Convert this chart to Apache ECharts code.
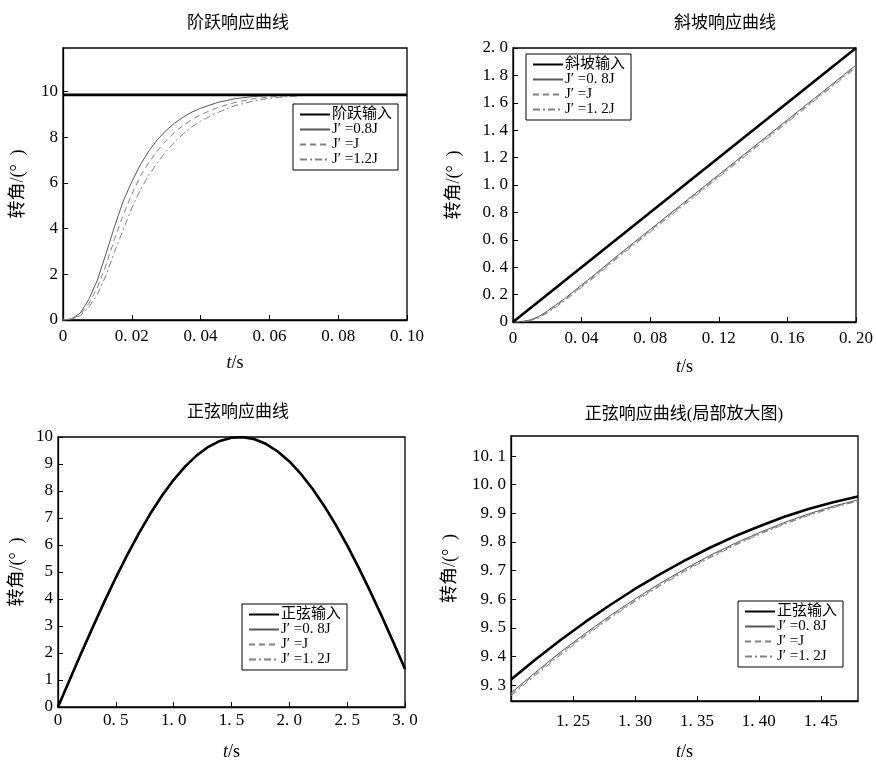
<!DOCTYPE html>
<html>
<head>
<meta charset="utf-8">
<script src="https://cdn.jsdelivr.net/npm/echarts@6/dist/echarts.min.js"></script>
<style>html,body{margin:0;padding:0;background:#fff}#c{width:876px;height:762px}</style>
</head>
<body>
<div id="c"></div>
<script>
// ---- Panel 1: step response ----
const stepT = [0, 0.0025, 0.005, 0.0075, 0.01, 0.0125, 0.015, 0.0175, 0.02, 0.0225, 0.025, 0.0275, 0.03, 0.0325, 0.035, 0.0375, 0.04, 0.045, 0.05, 0.055, 0.06, 0.065, 0.07, 0.08, 0.09, 0.1];
const step08 = [0, 0.05, 0.3, 0.9, 1.75, 2.9, 4.1, 5.2, 6.05, 6.8, 7.4, 7.9, 8.3, 8.62, 8.88, 9.1, 9.26, 9.52, 9.68, 9.77, 9.82, 9.84, 9.85, 9.85, 9.85, 9.85];
const step10 = [0, 0.04, 0.23, 0.72, 1.42, 2.4, 3.55, 4.6, 5.5, 6.3, 6.9, 7.42, 7.85, 8.22, 8.52, 8.77, 8.98, 9.3, 9.52, 9.67, 9.76, 9.81, 9.84, 9.85, 9.85, 9.85];
const step12 = [0, 0.03, 0.18, 0.56, 1.12, 1.95, 3.0, 3.95, 4.9, 5.7, 6.35, 6.9, 7.38, 7.8, 8.15, 8.45, 8.7, 9.08, 9.38, 9.57, 9.7, 9.77, 9.82, 9.85, 9.85, 9.85];
const stepInT = [0, 0.1];
const stepIn = [9.85, 9.85];

// ---- Panel 2: ramp response ----
const rampT = [0, 0.005, 0.01, 0.015, 0.02, 0.025, 0.03, 0.035, 0.04, 0.05, 0.06, 0.07, 0.08, 0.1, 0.12, 0.14, 0.16, 0.18, 0.2];
const ramp08 = [0, 0.003, 0.015, 0.04, 0.08, 0.125, 0.17, 0.22, 0.27, 0.37, 0.475, 0.575, 0.675, 0.875, 1.075, 1.275, 1.475, 1.675, 1.875];
const ramp10 = [0, 0.002, 0.012, 0.034, 0.072, 0.116, 0.162, 0.211, 0.261, 0.361, 0.466, 0.566, 0.666, 0.866, 1.066, 1.266, 1.466, 1.666, 1.866];
const ramp12 = [0, 0.002, 0.01, 0.03, 0.066, 0.108, 0.154, 0.203, 0.253, 0.353, 0.457, 0.557, 0.657, 0.857, 1.057, 1.257, 1.457, 1.657, 1.857];
const rampInT = [0, 0.2];
const rampIn = [0, 2.0];

// ---- Panel 3: sine response ----
const sineT = [0, 0.1, 0.2, 0.3, 0.4, 0.5, 0.6, 0.7, 0.8, 0.9, 1.0, 1.1, 1.2, 1.3, 1.4, 1.5, 1.6, 1.7, 1.8, 1.9, 2.0, 2.1, 2.2, 2.3, 2.4, 2.5, 2.6, 2.7, 2.8, 2.9, 3.0];
const sineIn = [0, 0.998, 1.987, 2.955, 3.894, 4.794, 5.646, 6.442, 7.174, 7.833, 8.415, 8.912, 9.320, 9.636, 9.854, 9.975, 9.996, 9.917, 9.738, 9.463, 9.093, 8.632, 8.085, 7.457, 6.755, 5.985, 5.155, 4.274, 3.350, 2.392, 1.411];
const sine08 = [0, 0.948, 1.938, 2.907, 3.848, 4.750, 5.605, 6.404, 7.139, 7.802, 8.388, 8.889, 9.302, 9.623, 9.845, 9.971, 9.997, 9.923, 9.749, 9.479, 9.114, 8.657, 8.114, 7.490, 6.792, 6.025, 5.198, 4.319, 3.397, 2.441, 1.461];
const sine10 = [0, 0.943, 1.933, 2.902, 3.843, 4.746, 5.601, 6.400, 7.136, 7.799, 8.385, 8.887, 9.300, 9.622, 9.844, 9.971, 9.997, 9.924, 9.750, 9.481, 9.116, 8.660, 8.117, 7.493, 6.796, 6.029, 5.202, 4.324, 3.402, 2.446, 1.466];
const sine12 = [0, 0.938, 1.928, 2.897, 3.838, 4.742, 5.597, 6.396, 7.132, 7.796, 8.382, 8.885, 9.298, 9.621, 9.843, 9.970, 9.997, 9.925, 9.751, 9.483, 9.118, 8.662, 8.120, 7.496, 6.800, 6.033, 5.206, 4.328, 3.407, 2.451, 1.471];

// ---- Panel 4: sine response, zoomed ----
const zoomT = [1.20, 1.22, 1.24, 1.26, 1.28, 1.30, 1.32, 1.34, 1.36, 1.38, 1.40, 1.42, 1.44, 1.46, 1.48];
const zoomIn = [9.320, 9.391, 9.458, 9.521, 9.580, 9.636, 9.687, 9.735, 9.779, 9.819, 9.854, 9.887, 9.915, 9.939, 9.959];
const zoom08 = [9.273, 9.346, 9.416, 9.481, 9.543, 9.601, 9.655, 9.705, 9.752, 9.794, 9.832, 9.867, 9.898, 9.925, 9.947];
const zoom10 = [9.268, 9.341, 9.411, 9.476, 9.538, 9.596, 9.650, 9.701, 9.748, 9.790, 9.829, 9.864, 9.895, 9.922, 9.945];
const zoom12 = [9.263, 9.336, 9.406, 9.472, 9.534, 9.592, 9.646, 9.697, 9.744, 9.787, 9.826, 9.861, 9.892, 9.920, 9.943];

// ---- tick values ----
const p1XTicks = [0, 0.02, 0.04, 0.06, 0.08, 0.1];
const p1YTicks = [0, 2, 4, 6, 8, 10];
const p2XTicks = [0, 0.04, 0.08, 0.12, 0.16, 0.2];
const p2YTicks = [0, 0.2, 0.4, 0.6, 0.8, 1.0, 1.2, 1.4, 1.6, 1.8, 2.0];
const p3XTicks = [0, 0.5, 1.0, 1.5, 2.0, 2.5, 3.0];
const p3YTicks = [0, 1, 2, 3, 4, 5, 6, 7, 8, 9, 10];
const p4XTicks = [1.25, 1.30, 1.35, 1.40, 1.45];
const p4YTicks = [9.3, 9.4, 9.5, 9.6, 9.7, 9.8, 9.9, 10.0, 10.1];

const titles = ['阶跃响应曲线', '斜坡响应曲线', '正弦响应曲线', '正弦响应曲线(局部放大图)'];
const N1 = ['阶跃输入', 'J′ =0.8J', 'J′ =J', 'J′ =1.2J'];
const N2 = ['斜坡输入', 'J′ =0. 8J', 'J′ =J ', 'J′ =1. 2J'];
const N3 = ['正弦输入', 'J′ =0. 8J', 'J′ =J ', 'J′ =1. 2J'];

const FONT = '"Liberation Serif", "DejaVu Serif", "Noto Sans CJK SC", serif';
const zip = (t, v) => t.map((x, i) => [x, v[i]]);
const fmt = d => v => (Math.abs(v) < 1e-9 ? '0' : v.toFixed(d).replace('.', '. '));

const grids = [
  {left: 63, top: 48, width: 344, height: 272},
  {left: 513, top: 48, width: 346, height: 274},
  {left: 58, top: 437, width: 347, height: 270},
  {left: 511, top: 436, width: 347, height: 272}
];

function xAx(i, min, max, ticks, dec, labelMargin, nameGap) {
  return {
    type: 'value', gridIndex: i, min: min, max: max,
    axisLine: {lineStyle: {color: '#000', width: 1.3}},
    axisTick: {inside: true, length: 5, lineStyle: {color: '#000'}, customValues: ticks},
    axisLabel: {customValues: ticks, formatter: fmt(dec), color: '#000', fontFamily: FONT, fontSize: 17, margin: labelMargin},
    splitLine: {show: false},
    name: '{i|t}/s', nameLocation: 'middle', nameGap: nameGap,
    nameTextStyle: {color: '#000', fontFamily: FONT, fontSize: 18, rich: {i: {fontStyle: 'italic', fontFamily: FONT, fontSize: 18, color: '#000'}}}
  };
}
function yAx(i, min, max, ticks, dec, nameGap) {
  return {
    type: 'value', gridIndex: i, min: min, max: max,
    axisLine: {lineStyle: {color: '#000', width: 1.3}},
    axisTick: {inside: true, length: 5, lineStyle: {color: '#000'}, customValues: ticks},
    axisLabel: {customValues: ticks, formatter: fmt(dec), color: '#000', fontFamily: FONT, fontSize: 17, margin: 5},
    splitLine: {show: false},
    name: '转角/(°  )', nameLocation: 'middle', nameGap: nameGap,
    nameTextStyle: {color: '#000', fontFamily: FONT, fontSize: 18}
  };
}

const styles = [
  {color: '#000', width: 2.6, type: 'solid'},
  {color: '#555', width: 1, type: 'solid'},
  {color: '#808080', width: 1, type: [6, 4]},
  {color: '#808080', width: 1, type: [7, 3, 2, 3]}
];
function ser(i, name, data, k) {
  return {
    type: 'line', name: name, xAxisIndex: i, yAxisIndex: i, data: data,
    symbol: 'none', showSymbol: false, smooth: false, silent: true,
    lineStyle: styles[k], itemStyle: {color: styles[k].color}, z: k === 0 ? 5 : 3
  };
}

const series = [
  ser(0, N1[1], zip(stepT, step08), 1),
  ser(0, N1[2], zip(stepT, step10), 2),
  ser(0, N1[3], zip(stepT, step12), 3),
  ser(0, N1[0], zip(stepInT, stepIn), 0),
  ser(1, N2[1], zip(rampT, ramp08), 1),
  ser(1, N2[2], zip(rampT, ramp10), 2),
  ser(1, N2[3], zip(rampT, ramp12), 3),
  ser(1, N2[0], zip(rampInT, rampIn), 0),
  ser(2, N3[1], zip(sineT, sine08), 1),
  ser(2, N3[2], zip(sineT, sine10), 2),
  ser(2, N3[3], zip(sineT, sine12), 3),
  ser(2, N3[0], zip(sineT, sineIn), 0),
  ser(3, N3[1], zip(zoomT, zoom08), 1),
  ser(3, N3[2], zip(zoomT, zoom10), 2),
  ser(3, N3[3], zip(zoomT, zoom12), 3),
  ser(3, N3[0], zip(zoomT, zoomIn), 0)
];

function leg(names, left, top) {
  return {
    data: names, orient: 'vertical', left: left, top: top,
    itemWidth: 30, itemHeight: 12, itemGap: 0, padding: [3, 6, 3, 6],
    borderColor: '#000', borderWidth: 1, backgroundColor: '#fff',
    selectedMode: false,
    itemStyle: {opacity: 0},
    textStyle: {color: '#000', fontFamily: FONT, fontSize: 15, lineHeight: 14, padding: [0, 0, 0, -3]}
  };
}

const option = {
  animation: false,
  backgroundColor: '#fff',
  title: [
    {text: titles[0], left: 233, top: 10, textAlign: 'center'},
    {text: titles[1], left: 720, top: 10, textAlign: 'center'},
    {text: titles[2], left: 233, top: 399, textAlign: 'center'},
    {text: titles[3], left: 679, top: 401, textAlign: 'center'}
  ].map(t => Object.assign(t, {textStyle: {color: '#000', fontFamily: FONT, fontSize: 17, fontWeight: 'normal'}})),
  grid: grids.map(g => Object.assign({show: true, borderColor: '#000', borderWidth: 1.3, backgroundColor: 'transparent'}, g)),
  xAxis: [
    xAx(0, 0, 0.1, p1XTicks, 2, 8, 34),
    xAx(1, 0, 0.2, p2XTicks, 2, 8, 36),
    xAx(2, 0, 3.0, p3XTicks, 1, 5, 36),
    xAx(3, 1.2, 1.48, p4XTicks, 2, 12, 42)
  ],
  yAxis: [
    yAx(0, 0, 11.9, p1YTicks, 0, 36),
    yAx(1, 0, 2.0, p2YTicks, 1, 50),
    yAx(2, 0, 10, p3YTicks, 0, 32),
    yAx(3, 9.245, 10.17, p4YTicks, 1, 52)
  ],
  legend: [
    leg(N1, 293, 104),
    leg(N2, 526, 54),
    leg(N3, 242, 604),
    leg(N3, 738, 601)
  ],
  series: series
};

const chart = echarts.init(document.getElementById('c'), null, {renderer: 'canvas'});
chart.setOption(option);
</script>
</body>
</html>
